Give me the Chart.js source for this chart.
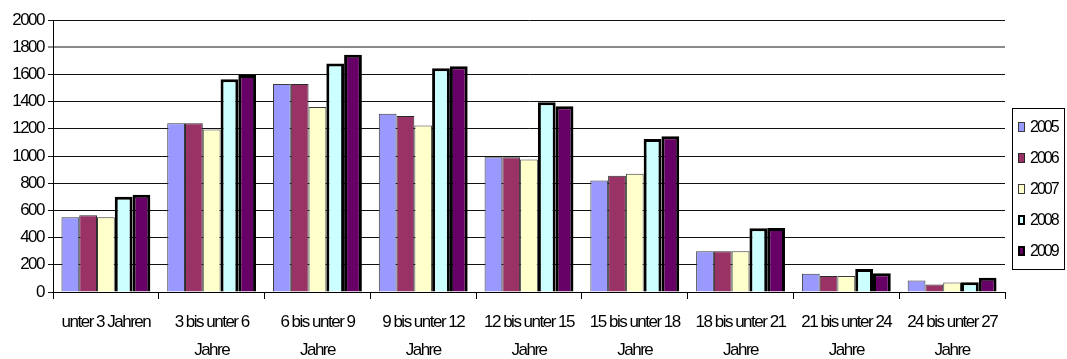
<!DOCTYPE html>
<html>
<head>
<meta charset="utf-8">
<script src="https://cdn.jsdelivr.net/npm/chart.js@4"></script>
<style>
  html, body { margin: 0; padding: 0; background: #fff; }
  #wrap { width: 1067px; height: 359px; }
</style>
</head>
<body>
<div id="wrap"><canvas id="c" width="1067" height="359"></canvas></div>
<script>
// Altersgruppen (x-axis)
const categories = [
  ['unter 3 Jahren'],
  ['3 bis unter 6', 'Jahre'],
  ['6 bis unter 9', 'Jahre'],
  ['9 bis unter 12', 'Jahre'],
  ['12 bis unter 15', 'Jahre'],
  ['15 bis unter 18', 'Jahre'],
  ['18 bis unter 21', 'Jahre'],
  ['21 bis unter 24', 'Jahre'],
  ['24 bis unter 27', 'Jahre']
];

const years = ['2005', '2006', '2007', '2008', '2009'];

const values2005 = [550, 1240, 1530, 1310,  990,  820, 300, 135,  85];
const values2006 = [565, 1240, 1530, 1295,  990,  855, 300, 118,  55];
const values2007 = [550, 1195, 1360, 1225,  975,  870, 300, 118,  70];
const values2008 = [700, 1565, 1680, 1645, 1395, 1125, 468, 170,  72];
const values2009 = [715, 1595, 1745, 1660, 1365, 1145, 470, 138, 105];

const yTicks = [0, 200, 400, 600, 800, 1000, 1200, 1400, 1600, 1800, 2000];

const FONT = '"Liberation Sans", Arial, sans-serif';

const seriesStyle = [
  { bg: '#9999FF', border: '#3a3a3a', width: 1 },
  { bg: '#993366', border: '#2a2a2a', width: 1 },
  { bg: '#FFFFCC', border: '#3a3a3a', width: 1 },
  { bg: '#CCFFFF', border: '#000000', width: 3 },
  { bg: '#660066', border: '#000000', width: 3 }
];

const seriesValues = [values2005, values2006, values2007, values2008, values2009];

const datasets = years.map((y, i) => ({
  label: y,
  data: seriesValues[i],
  backgroundColor: seriesStyle[i].bg,
  borderColor: seriesStyle[i].border,
  borderWidth: seriesStyle[i].width,
  borderSkipped: 'start',
  categoryPercentage: 0.84,
  barPercentage: 1.0
}));

// Tight, condensed-looking lettering for all axis text
const tightText = {
  id: 'tightText',
  beforeDraw(chart) {
    chart.ctx.letterSpacing = '-1.5px';
  }
};

// Boxed legend at the right edge, drawn from the dataset list
const boxedLegend = {
  id: 'boxedLegend',
  afterDraw(chart) {
    const ctx = chart.ctx;
    const left = 1012.5, top = 108.5, right = 1064.5, bottom = 269.5;
    ctx.save();
    ctx.letterSpacing = '-2px';
    ctx.strokeStyle = '#000';
    ctx.lineWidth = 1;
    ctx.strokeRect(left, top, right - left, bottom - top);
    ctx.font = '16px ' + FONT;
    ctx.textBaseline = 'middle';
    ctx.textAlign = 'left';
    chart.data.datasets.forEach((ds, i) => {
      const cy = 127 + i * 31;
      const bw = ds.borderWidth > 1 ? 2 : 1;
      ctx.fillStyle = ds.borderColor;
      ctx.fillRect(1018, cy - 5, 7, 10);
      ctx.fillStyle = ds.backgroundColor;
      ctx.fillRect(1018 + bw, cy - 5 + bw, 7 - 2 * bw, 10 - 2 * bw);
      ctx.fillStyle = '#000';
      ctx.fillText(ds.label, 1030, cy + 1);
    });
    ctx.restore();
  }
};

new Chart(document.getElementById('c'), {
  type: 'bar',
  data: { labels: categories, datasets },
  plugins: [tightText, boxedLegend],
  options: {
    responsive: false,
    animation: false,
    layout: { padding: { top: 20, right: 62, left: 0, bottom: 0 } },
    plugins: {
      legend: { display: false },
      tooltip: { enabled: false }
    },
    scales: {
      x: {
        offset: true,
        afterFit: s => { s.height = 67; },
        grid: {
          display: true,
          offset: true,
          drawOnChartArea: false,
          drawTicks: true,
          tickLength: 7,
          color: '#000'
        },
        border: { display: true, color: '#000', width: 1 },
        ticks: {
          color: '#000',
          padding: 9,
          maxRotation: 0,
          autoSkip: false,
          font: { family: FONT, size: 17, lineHeight: 1.65 }
        }
      },
      y: {
        min: 0,
        max: 2000,
        afterFit: s => { s.width = 53; },
        afterBuildTicks: s => { s.ticks = yTicks.map(v => ({ value: v })); },
        grid: {
          color: c => (c.tick && c.tick.value === 1800) ? '#8a8a8a' : '#111',
          lineWidth: c => (c.tick && c.tick.value === 1800) ? 2 : 1,
          drawTicks: true,
          tickLength: 5
        },
        border: { display: true, color: '#000', width: 1 },
        ticks: {
          color: '#000',
          padding: 4,
          callback: v => String(v),
          font: { family: FONT, size: 17 }
        }
      }
    }
  }
});
</script>
</body>
</html>
